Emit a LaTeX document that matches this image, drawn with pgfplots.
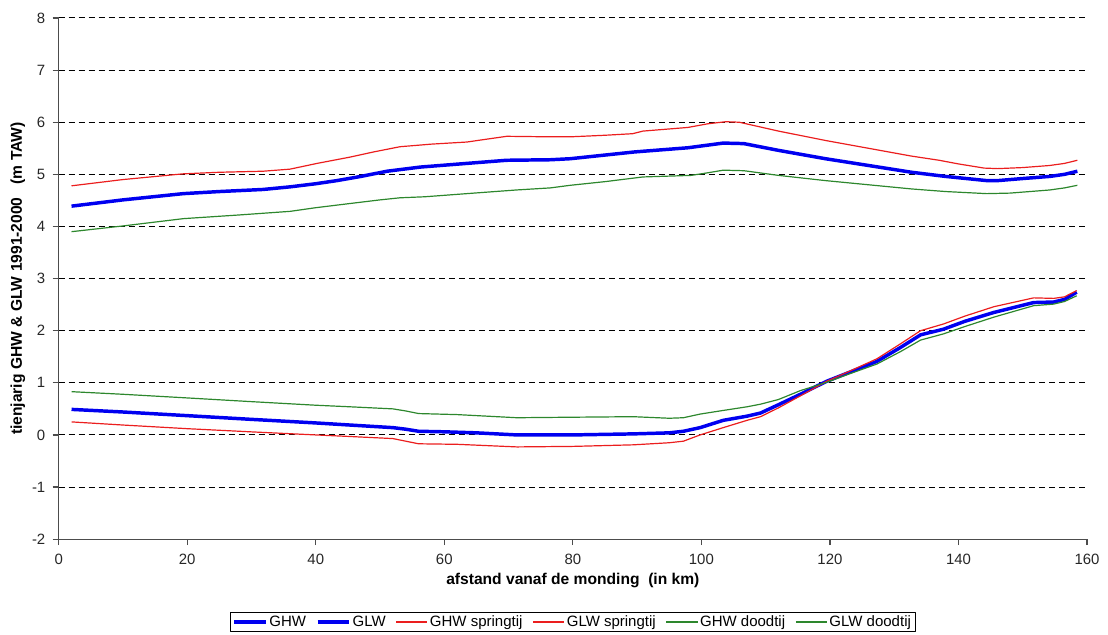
\documentclass[border=0pt]{standalone}
\usepackage{fontspec}
\setmainfont{Liberation Sans}
\usepackage{pgfplots}
\pgfplotsset{compat=1.18}
\definecolor{ghwblue}{RGB}{0,0,240}
\definecolor{springred}{RGB}{235,30,30}
\definecolor{doodgreen}{RGB}{45,135,45}
\begin{document}
\begin{tikzpicture}
\begin{axis}[
  name=ax,
  scale only axis,
  width=771pt, height=390.75pt,
  xmin=0, xmax=160, ymin=-2, ymax=8,
  xtick={0,20,...,160}, ytick={-2,-1,...,8},
  axis x line*=bottom, axis y line*=left,
  axis line style={gray!60!black, line width=0.9pt},
  tick style={gray!60!black, line width=0.9pt},
  tick align=outside, major tick length=4.5pt,
  ymajorgrids,
  major grid style={black, line width=0.75pt, dash pattern=on 4.5pt off 3pt},
  every tick label/.append style={font=\fontsize{11.2}{13}\selectfont, text=black!85},
  /pgf/number format/assume math mode=true,
  xticklabel style={yshift=-3pt},
  yticklabel style={xshift=-2pt},
  xlabel={\textbf{afstand vanaf de monding\ \ (in km)}},
  ylabel={\textbf{tienjarig GHW \& GLW 1991-2000\ \ \ (m TAW)}},
  x label style={at={(axis description cs:0.5,-0.0787)}, anchor=center, font=\fontsize{11.7}{13}\selectfont},
  y label style={at={(axis description cs:-0.0396,0.5)}, anchor=center, font=\fontsize{11.7}{13}\selectfont},
  legend columns=6,
  legend style={at={(axis description cs:0.5,-0.159)}, anchor=center,
    draw=black, line width=0.6pt, font=\fontsize{11.25}{13}\selectfont,
    inner xsep=2pt, inner ysep=0.5pt,
    nodes={inner xsep=1.5pt, inner ysep=2pt},
    /tikz/every even column/.append style={column sep=6pt}},
  legend image code/.code={\draw[#1] (0cm,0cm) -- (0.82cm,0cm);},
  line join=round,
]
% GHW
\addplot[ghwblue, line width=2.6pt] coordinates {
(2,4.39) (10,4.51) (19.4,4.63) (25,4.67) (31.8,4.71) (36,4.76) (40,4.82) (43.3,4.88)
(47,4.96) (51.1,5.06) (56.3,5.14) (63.5,5.21) (69.7,5.27) (76.5,5.28) (79.6,5.30)
(89.6,5.43) (97.9,5.51) (103.4,5.60) (106.6,5.59) (112,5.46) (119.3,5.30) (126,5.17)
(132.7,5.04) (138,4.96) (144.4,4.88) (146.1,4.88) (150,4.92) (154.2,4.96) (156.5,5.00) (158.5,5.06)
};
\addlegendentry{GHW}
% GLW
\addplot[ghwblue, line width=2.6pt] coordinates {
(2,0.49) (10,0.44) (20,0.37) (29.8,0.30) (40,0.23) (45.3,0.19) (52,0.14) (54,0.11) (56,0.07)
(60,0.06) (65,0.04) (71.3,0.0) (80,0.0) (89.4,0.02) (95,0.04) (97.2,0.07) (99.8,0.14)
(103.4,0.28) (107.1,0.36) (109.2,0.42) (112,0.58) (115.4,0.78) (119.5,1.03) (123,1.20)
(127.3,1.41) (131,1.68) (134.1,1.92) (137.7,2.03) (141,2.18) (145.5,2.35) (151.7,2.54)
(154.8,2.55) (156.5,2.60) (158.4,2.74)
};
\addlegendentry{GLW}
% GHW springtij
\addplot[springred, line width=0.9pt] coordinates {
(2,4.78) (10,4.90) (19.4,5.01) (25,5.04) (31.8,5.06) (36,5.10) (40.2,5.21) (45.3,5.33)
(49,5.43) (53.1,5.53) (58,5.58) (63.5,5.62) (69.7,5.73) (76.5,5.72) (79.6,5.72) (85,5.75)
(89.3,5.78) (90.9,5.83) (97.9,5.90) (101,5.97) (103.8,6.01) (105.9,6.00) (112,5.83)
(119.3,5.65) (126,5.50) (132.7,5.35) (137,5.27) (140,5.20) (144,5.12) (146.1,5.11)
(150,5.13) (154.2,5.17) (156.5,5.21) (158.5,5.27)
};
\addlegendentry{GHW springtij}
% GLW springtij
\addplot[springred, line width=0.9pt] coordinates {
(2,0.25) (10,0.19) (20,0.12) (29.8,0.06) (40,0.0) (45.3,-0.03) (52,-0.07) (54,-0.12)
(56,-0.17) (62,-0.18) (71.3,-0.23) (80,-0.22) (89.4,-0.19) (95,-0.15) (97.2,-0.12)
(99.8,0.0) (103.4,0.14) (107.1,0.28) (109.2,0.35) (112,0.52) (115.4,0.75) (119.5,1.03)
(123,1.22) (127.3,1.46) (131,1.75) (134.1,2.0) (137.7,2.13) (141,2.28) (145.5,2.46)
(151.7,2.63) (154.8,2.62) (156.5,2.65) (158.4,2.77)
};
\addlegendentry{GLW springtij}
% GHW doodtij
\addplot[doodgreen, line width=0.9pt] coordinates {
(2,3.90) (10,4.01) (19.4,4.15) (28,4.22) (36,4.29) (40,4.36) (45.3,4.44) (50,4.51)
(53.1,4.55) (57,4.57) (63.5,4.63) (71.2,4.70) (76.5,4.74) (79.6,4.79) (85,4.86)
(90.9,4.95) (98.4,4.98) (101,5.03) (103.4,5.08) (106.6,5.07) (112,4.98) (119.3,4.88)
(126,4.80) (132.7,4.72) (138,4.67) (144.4,4.63) (148,4.64) (154.2,4.70) (156.5,4.74) (158.5,4.79)
};
\addlegendentry{GHW doodtij}
% GLW doodtij
\addplot[doodgreen, line width=0.9pt] coordinates {
(2,0.83) (10,0.78) (20,0.71) (29.8,0.64) (40,0.57) (45.3,0.54) (52,0.50) (54,0.46)
(56,0.41) (62,0.39) (71.3,0.33) (80,0.34) (89.4,0.35) (95,0.32) (97.2,0.33) (99.8,0.40)
(103.4,0.47) (107.1,0.54) (109.2,0.59) (112,0.68) (115.4,0.85) (119.5,1.01) (123,1.17)
(127.3,1.36) (131,1.60) (134.1,1.82) (137.7,1.94) (141,2.08) (145.5,2.26) (151.7,2.48)
(154.8,2.51) (156.5,2.56) (158.4,2.67)
};
\addlegendentry{GLW doodtij}
\end{axis}
\pgfresetboundingbox
\path[use as bounding box] ([xshift=-44pt,yshift=-71.25pt]ax.south west) rectangle ([xshift=15.75pt,yshift=13.5pt]ax.north east);
\end{tikzpicture}
\end{document}
